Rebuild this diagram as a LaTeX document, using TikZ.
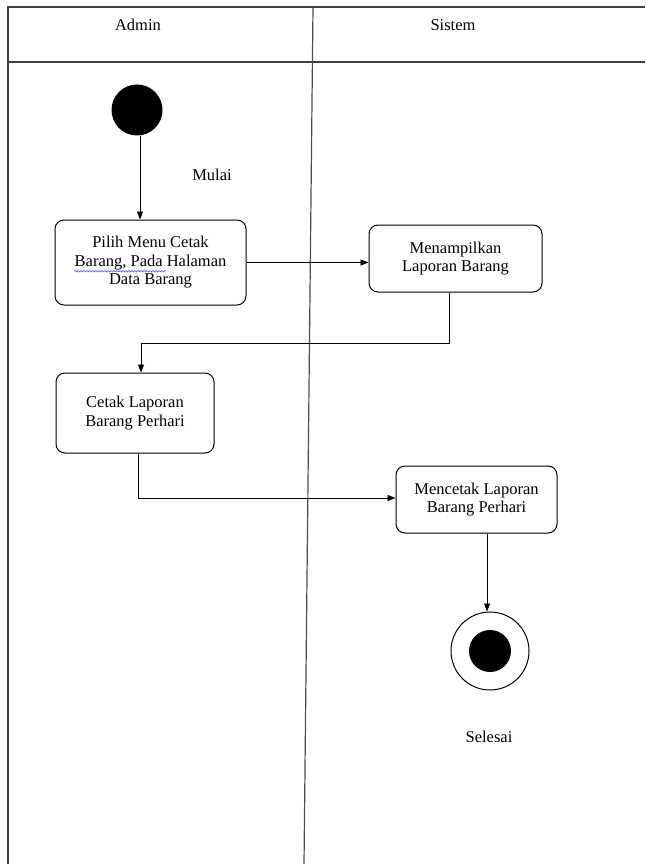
\documentclass[tikz,border=0pt]{standalone}
\usepackage{fontspec}
\setmainfont{Liberation Serif}
\usetikzlibrary{arrows.meta,decorations.pathmorphing}
\begin{document}
\begin{tikzpicture}[x=1pt,y=-1pt,
  lane/.style={draw=black!75,line width=1.3pt},
  act/.style={draw=black,line width=1pt,rounded corners=9pt,align=center,inner sep=0pt,
    font=\fontsize{16.5}{18.5}\selectfont},
  lbl/.style={font=\fontsize{16.5}{18.5}\selectfont,inner sep=0pt},
  flow/.style={draw=black,line width=0.9pt,-{Triangle[length=8pt,width=6pt]}}]
\useasboundingbox (0,0) rectangle (645,864);
% swimlane frame
\coordinate (tl) at (8,7);
\coordinate (tr) at (645,7);
\coordinate (hl) at (8,62);
\coordinate (hr) at (645,62);
\coordinate (bl) at (8,864);
\coordinate (dt) at (313,7);
\coordinate (db) at (304,864);
\draw[lane] (bl) -- (tl) -- (tr);
\draw[lane] (hl) -- (hr);
\draw[line width=1.2pt,draw=black!70] (dt) -- (db);
\node[lbl] (admin) at (138,25) {Admin};
\node[lbl] (sistem) at (453,25) {Sistem};
% start
\node[circle,fill=black,minimum size=51pt,inner sep=0pt] (start) at (137,110) {};
\node[lbl] (mulai) at (212,175) {Mulai};
% activities
\node[act,minimum width=191pt,minimum height=85pt] (a1) at (150.5,262.5)
  {Pilih Menu Cetak\\Barang, Pada Halaman\\Data Barang};
\node[act,minimum width=173pt,minimum height=67pt] (a2) at (455.5,258.5)
  {Menampilkan\\Laporan Barang};
\node[act,minimum width=158pt,minimum height=80pt] (a3) at (135,413)
  {Cetak Laporan\\Barang Perhari};
\node[act,minimum width=161pt,minimum height=67pt] (a4) at (476.5,499.5)
  {Mencetak Laporan\\Barang Perhari};
% spell-check underline
\draw[blue!70,line width=0.6pt,decorate,decoration={snake,amplitude=0.7pt,segment length=3pt}]
  (74,271.2) -- (166,271.2);
% end
\node[circle,draw=black,line width=1pt,minimum size=78pt,inner sep=0pt] (end) at (490,651) {};
\node[circle,fill=black,minimum size=42pt,inner sep=0pt] (endin) at (490,651) {};
\node[lbl] (selesai) at (489,737) {Selesai};
% flows
\draw[flow] (start.south -| 140,0) -- (a1.north -| 140,0);
\draw[flow] (a1.east) -- (a2.west |- a1.east);
\coordinate (k1) at (449,343);
\coordinate (k2) at (141,343);
\draw[flow] (a2.south -| k1) -- (k1) -- (k2) -- (a3.north -| k2);
\coordinate (k3) at (138,498);
\draw[flow] (a3.south -| k3) -- (k3) -- (a4.west |- k3);
\draw[flow] (a4.south -| 487,0) -- (end.north -| 487,0);
\end{tikzpicture}
\end{document}
